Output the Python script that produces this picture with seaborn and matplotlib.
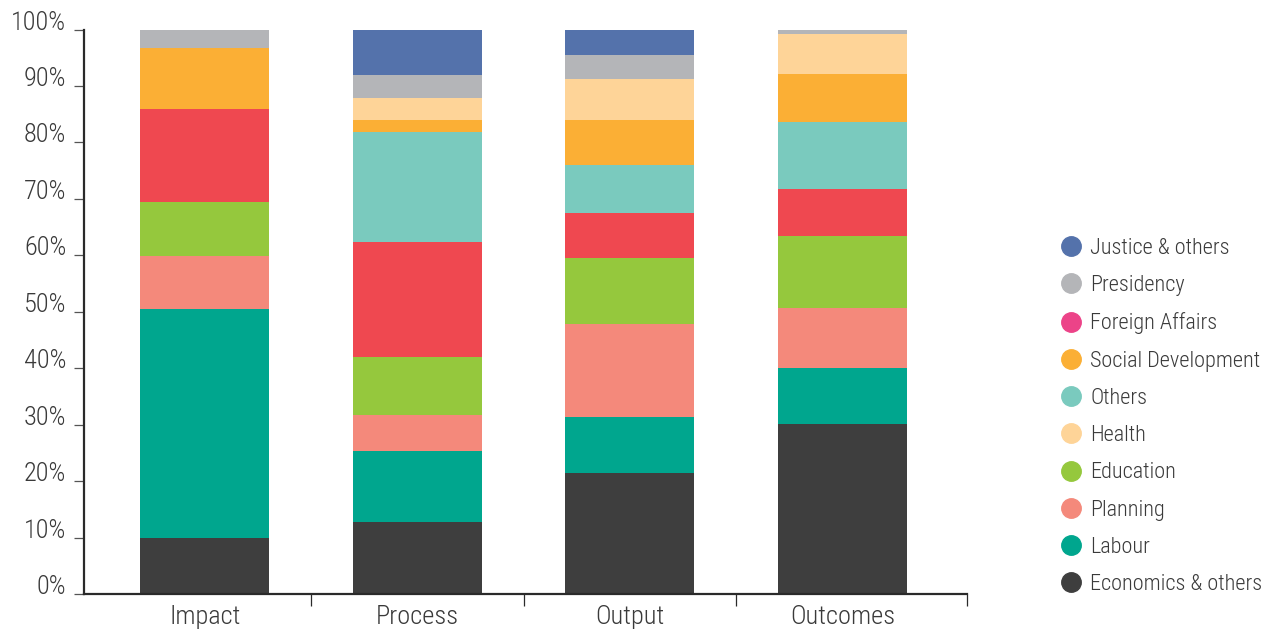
import matplotlib
matplotlib.use("Agg")
import matplotlib.pyplot as plt
from matplotlib import font_manager as fm
from matplotlib.lines import Line2D
import seaborn as sns
import pandas as pd
import numpy as np

# ---------------- data ----------------
categories = ["Impact", "Process", "Output", "Outcomes"]

# stacking order, bottom to top
economics   = [10.0, 12.8, 21.5, 30.2]
labour      = [40.5, 12.6,  9.8,  9.9]
planning    = [ 9.3,  6.3, 16.5, 10.6]
education   = [ 9.7, 10.3, 11.7, 12.8]
foreign     = [16.5, 20.3,  8.0,  8.3]
others      = [ 0.0, 19.6,  8.5, 11.8]
social_dev  = [10.8,  2.0,  7.9,  8.5]
health      = [ 0.0,  3.9,  7.3,  7.1]
presidency  = [ 3.2,  4.1,  4.2,  0.8]
justice     = [ 0.0,  8.1,  4.6,  0.0]

stack_names = ["Economics & others", "Labour", "Planning", "Education",
               "Foreign Affairs", "Others", "Social Development", "Health",
               "Presidency", "Justice & others"]
stack_values = [economics, labour, planning, education, foreign, others,
                social_dev, health, presidency, justice]
bar_colors = ["#3e3e3e", "#00a68e", "#f4897b", "#95c83d", "#ef4850",
              "#7acabe", "#fbaf35", "#fed498", "#b4b5b8", "#5472ab"]

legend_names = ["Justice & others", "Presidency", "Foreign Affairs",
                "Social Development", "Others", "Health", "Education",
                "Planning", "Labour", "Economics & others"]
legend_colors = ["#5472ab", "#b4b5b8", "#ec4388", "#fbaf35", "#7acabe",
                 "#fed498", "#95c83d", "#f4897b", "#00a68e", "#3e3e3e"]

y_ticks = list(range(0, 101, 10))
y_tick_labels = [f"{v}%" for v in y_ticks]

# ---------------- fonts ----------------
sns.set_theme(style="white")
available = {f.name for f in fm.fontManager.ttflist}
family = "DejaVu Sans"
for cand in ["Roboto Condensed", "Liberation Sans Narrow", "Open Sans Condensed",
             "Noto Sans Condensed", "DejaVu Sans Condensed"]:
    if cand in available:
        family = cand
        break
plt.rcParams["font.family"] = [family, "DejaVu Sans"]
plt.rcParams["font.weight"] = "light"
text_color = "#3a3a3a"

# ---------------- figure ----------------
fig = plt.figure(figsize=(12.66, 6.29), dpi=100)
ax = fig.add_axes([84 / 1266, 1 - 594 / 629, (967 - 84) / 1266, (594 - 29.5) / 629])

cum = np.zeros(len(categories))
cums = []
for vals in stack_values:
    cum = cum + np.array(vals)
    cums.append(cum.copy())

# draw cumulative totals from the top of the stack down
for name, col, c in reversed(list(zip(stack_names, bar_colors, cums))):
    d = pd.DataFrame({"category": categories, "value": c})
    sns.barplot(data=d, x="category", y="value", color=col, saturation=1,
                width=0.607, linewidth=0, errorbar=None, ax=ax, order=categories)

ax.set_xlim(-0.569, 3.586)
ax.set_ylim(0, 100)
ax.set_xlabel("")
ax.set_ylabel("")

for s in ["top", "right"]:
    ax.spines[s].set_visible(False)
for s in ["left", "bottom"]:
    ax.spines[s].set_color("#2a2a2a")
    ax.spines[s].set_linewidth(1.6)

ax.set_yticks(y_ticks)
ax.set_yticklabels(y_tick_labels)
ax.tick_params(axis="y", which="major", direction="out", length=7.2, width=0.9,
               color="#555555", pad=5.5, labelsize=19, labelcolor=text_color, left=True)
for lab in ax.get_yticklabels():
    lab.set_va("baseline")

ax.set_xticks(range(len(categories)))
ax.set_xticklabels(categories)
ax.tick_params(axis="x", which="major", length=0, pad=8, labelsize=19,
               labelcolor=text_color)
ax.set_xticks([0.5, 1.5, 2.5, 3.586], minor=True)
ax.tick_params(axis="x", which="minor", direction="out", length=8.6, width=0.9,
               color="#2a2a2a", bottom=True)

handles = [Line2D([0], [0], marker="o", linestyle="none", markersize=14,
                  markerfacecolor=c, markeredgecolor=c) for c in legend_colors]
leg = fig.legend(handles, legend_names, loc="center left",
                 bbox_to_anchor=(1059 / 1266, 1 - 416.5 / 629), frameon=False,
                 fontsize=16, handlelength=1.05, handletextpad=0.35,
                 labelspacing=0.73, borderpad=0, borderaxespad=0)
for t in leg.get_texts():
    t.set_color(text_color)

fig.savefig("out.png", dpi=100)
